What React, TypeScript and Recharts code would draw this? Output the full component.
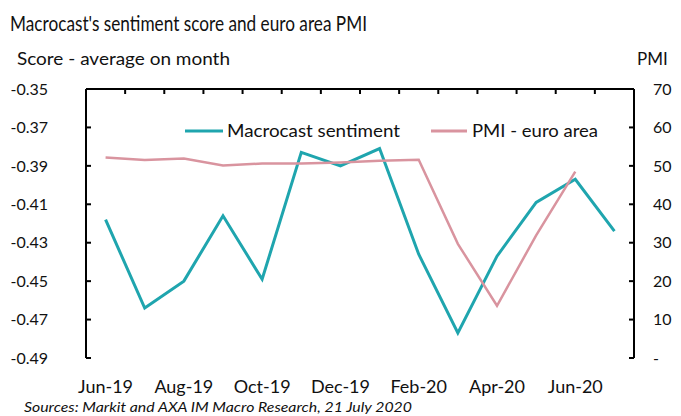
import React from 'react';
import { LineChart, Line, XAxis, YAxis, ReferenceLine } from 'recharts';

const months = ['Jun-19', 'Jul-19', 'Aug-19', 'Sep-19', 'Oct-19', 'Nov-19', 'Dec-19', 'Jan-20', 'Feb-20', 'Mar-20', 'Apr-20', 'May-20', 'Jun-20', 'Jul-20'];
const sentiment = [-0.418, -0.464, -0.45, -0.416, -0.449, -0.383, -0.39, -0.381, -0.436, -0.477, -0.437, -0.409, -0.397, -0.424];
const pmi = [52.2, 51.5, 51.9, 50.1, 50.6, 50.6, 50.9, 51.3, 51.6, 29.7, 13.6, 31.9, 48.5, null];
const scoreTicks = [-0.49, -0.47, -0.45, -0.43, -0.41, -0.39, -0.37, -0.35];
const pmiTicks = [0, 10, 20, 30, 40, 50, 60, 70];

const TEAL = '#1fa5ae';
const PINK = '#d9949f';
const FONT = 'Lato, "Liberation Sans", sans-serif';
const TICK_LEN = 5;
const LEFT_GAP = 38;
const RIGHT_GAP = 19;
const PMI_MAX = 70;
const TOP_TICK_DEPTH = 1.3; // in PMI units, ~5px

// slot = middle of each month's band on the numeric top axis
const rows = months.map((month, i) => ({ month, slot: i + 0.5, sentiment: sentiment[i], pmi: pmi[i] }));
// tick marks on the top axis sit between months
const boundaryTicks = [...months.map((_, i) => i), months.length];

const axisStyle = { stroke: '#000', strokeWidth: 2 };

// Excel-style ticks pointing into the plot
const LeftTick = (props: any) => {
  const { x, y, payload } = props;
  const ax = x + LEFT_GAP;
  return (
    <g>
      <line x1={ax} x2={ax + TICK_LEN} y1={y} y2={y} stroke="#000" strokeWidth={2} />
      <text x={x} y={y} dy="0.36em" textAnchor="end" fontSize={16} fontFamily={FONT} fill="#111">
        {Number(payload.value).toFixed(2)}
      </text>
    </g>
  );
};

const RightTick = (props: any) => {
  const { x, y, payload } = props;
  const ax = x - RIGHT_GAP;
  return (
    <g>
      <line x1={ax - TICK_LEN} x2={ax} y1={y} y2={y} stroke="#000" strokeWidth={2} />
      <text x={x} y={y} dy="0.36em" textAnchor="start" fontSize={16} fontFamily={FONT} fill="#111">
        {payload.value === 0 ? '-' : String(payload.value)}
      </text>
    </g>
  );
};

const App: React.FC = () => {
  return (
    <div style={{ position: 'fixed', left: 0, top: 0, width: 681, height: 416, background: '#fff', fontFamily: FONT }}>
      <LineChart width={681} height={416} data={rows} margin={{ top: 87, right: 0, bottom: 0, left: 0 }}>
        <XAxis
          dataKey="month"
          scale="band"
          interval={1}
          axisLine={false}
          tickLine={false}
          tickSize={0}
          tickMargin={22}
          height={58}
          tick={{ fill: '#111', fontSize: 18, fontFamily: FONT }}
        />
        <XAxis
          xAxisId="top"
          dataKey="slot"
          orientation="top"
          type="number"
          domain={[0, months.length]}
          allowDataOverflow
          ticks={boundaryTicks}
          interval={0}
          height={2}
          tick={false}
          tickSize={0}
          axisLine={axisStyle}
          tickLine={false}
        />
        <YAxis
          yAxisId="score"
          domain={[-0.49, -0.35]}
          ticks={scoreTicks}
          interval={0}
          allowDataOverflow
          width={86}
          tickSize={0}
          tickMargin={LEFT_GAP}
          axisLine={axisStyle}
          tickLine={false}
          tick={<LeftTick />}
        />
        <YAxis
          yAxisId="pmi"
          orientation="right"
          domain={[0, PMI_MAX]}
          ticks={pmiTicks}
          interval={0}
          allowDataOverflow
          width={47}
          tickSize={0}
          tickMargin={RIGHT_GAP}
          axisLine={axisStyle}
          tickLine={false}
          tick={<RightTick />}
        />
        {boundaryTicks.map((b) => (
          <ReferenceLine
            key={`tick-${b}`}
            xAxisId="top"
            yAxisId="pmi"
            segment={[{ x: b, y: PMI_MAX }, { x: b, y: PMI_MAX - TOP_TICK_DEPTH }]}
            stroke="#000"
            strokeWidth={2}
            ifOverflow="visible"
          />
        ))}
        <Line yAxisId="score" dataKey="sentiment" stroke={TEAL} strokeWidth={3} dot={false} isAnimationActive={false} />
        <Line xAxisId="top" yAxisId="pmi" dataKey="pmi" stroke={PINK} strokeWidth={2.5} dot={false} isAnimationActive={false} />
      </LineChart>
      <svg width={681} height={416} style={{ position: 'absolute', left: 0, top: 0, pointerEvents: 'none' }} fontFamily={FONT} fill="#111">
        <text x={10} y={31} fontSize={22} textLength={357} lengthAdjust="spacingAndGlyphs">Macrocast's sentiment score and euro area PMI</text>
        <text x={17} y={65} fontSize={17} textLength={213} lengthAdjust="spacingAndGlyphs">Score - average on month</text>
        <text x={637} y={65} fontSize={17}>PMI</text>
        <line x1={185} x2={223} y1={131} y2={131} stroke={TEAL} strokeWidth={3} />
        <text x={227} y={137} fontSize={17} textLength={173} lengthAdjust="spacingAndGlyphs">Macrocast sentiment</text>
        <line x1={431} x2={467} y1={131} y2={131} stroke={PINK} strokeWidth={3} />
        <text x={472} y={137} fontSize={17} textLength={126} lengthAdjust="spacingAndGlyphs">PMI - euro area</text>
        <text x={24} y={412} fontSize={13} fontStyle="italic" textLength={388} lengthAdjust="spacingAndGlyphs">Sources: Markit and AXA IM Macro Research, 21 July 2020</text>
      </svg>
    </div>
  );
};

export default App;
